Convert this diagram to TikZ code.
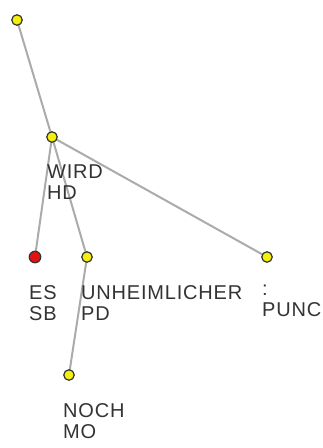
\documentclass[tikz,border=0pt]{standalone}
\usepackage{fontspec}
\setmainfont{Liberation Sans}
\definecolor{EdgeGray}{HTML}{ABABAB}
\definecolor{DotYellow}{HTML}{F4F00C}
\definecolor{DotRed}{HTML}{E21212}
\definecolor{LabelInk}{HTML}{333333}
\usetikzlibrary{positioning, backgrounds}

\begin{document}
\begin{tikzpicture}[x=1pt, y=-1pt,
    dot/.style={circle, draw=black!80, fill=DotYellow, line width=1.2pt,
                minimum size=10.5pt, inner sep=0pt},
    reddot/.style={dot, fill=DotRed, minimum size=11.5pt},
    edge/.style={draw=EdgeGray, line width=2pt},
    lbl/.style={anchor=north west, align=left, inner sep=0pt, text=LabelInk,
                font=\fontsize{20}{21}\selectfont\addfontfeatures{LetterSpace=4}}]
  \useasboundingbox (0,0) rectangle (323,448);

  \node[dot] (root) at (17,20) {};
  \node[dot] (wird) at (52,137) {};
  \node[reddot] (es) at (35,257) {};
  \node[dot] (unheim) at (87,257) {};
  \node[dot] (punc) at (267,257) {};
  \node[dot] (noch) at (69,375) {};

  \node[lbl] (wirdlbl) at ([shift={(-5,28)}]wird.center) {WIRD\\HD};
  \node[lbl] (eslbl) at ([shift={(-6,28)}]es.center) {ES\\SB};
  \node[lbl] (unheimlbl) at ([shift={(-6,28)}]unheim.center) {UNHEIMLICHER\\PD};
  \node[lbl] (punclbl) at ([shift={(-5,28)}]punc.center) {:\\PUNC};
  \node[lbl] (nochlbl) at ([shift={(-6,28)}]noch.center) {NOCH\\MO};

  \begin{pgfonlayer}{background}
    \draw[edge] (root.center) -- (wird.center);
    \draw[edge] (wird.center) -- (es.center);
    \draw[edge] (wird.center) -- (unheim.center);
    \draw[edge] (wird.center) -- (punc.center);
    \draw[edge] (unheim.center) -- (noch.center);
  \end{pgfonlayer}
\end{tikzpicture}
\end{document}
